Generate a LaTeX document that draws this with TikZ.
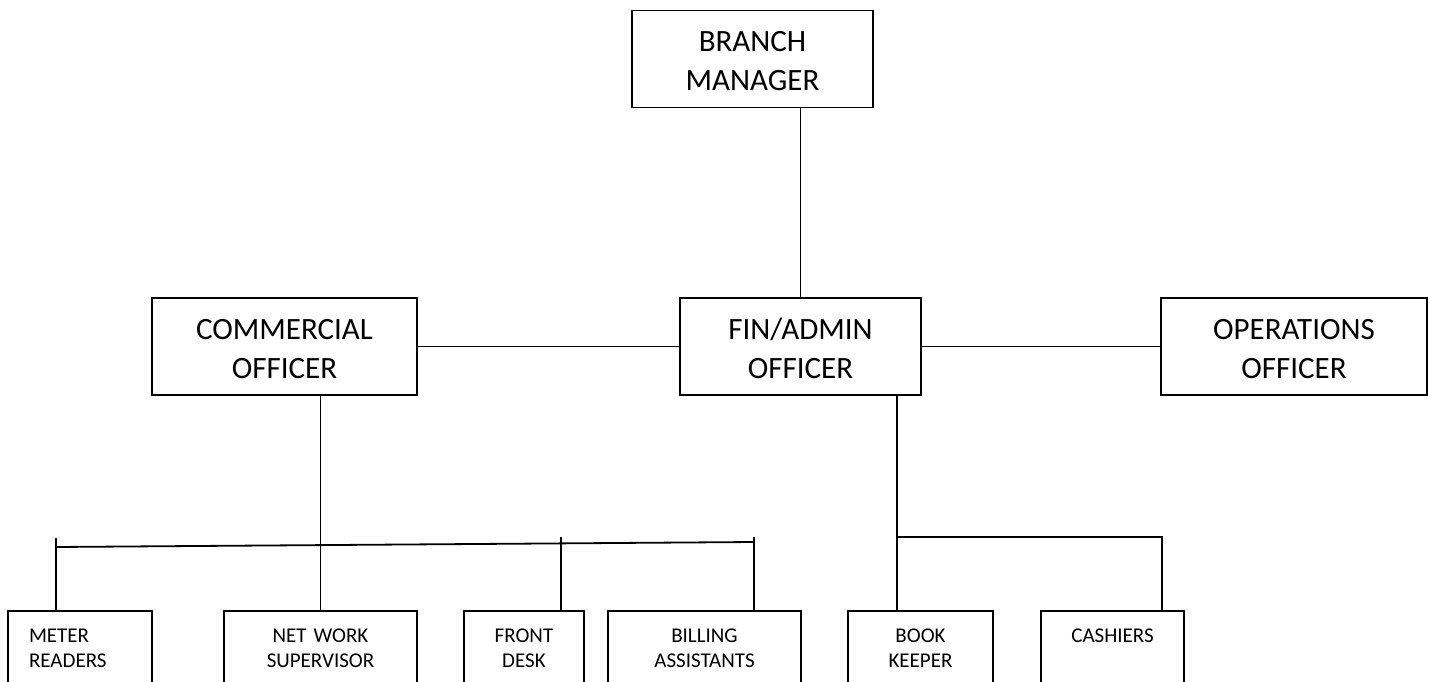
\documentclass[tikz,border=0pt]{standalone}
\usepackage{fontspec}
\setmainfont{Carlito}
\usepackage{tikz}
\usetikzlibrary{positioning,calc}

\begin{document}
\begin{tikzpicture}[
    x=1pt, y=-1pt,
    officer/.style={rectangle, draw, line width=1.8pt, inner sep=0pt, minimum height=97pt, align=center, font=\fontsize{31}{39}\selectfont, text height=64pt, text depth=0pt},
    staff/.style={rectangle, draw, line width=1.8pt, anchor=north, inner xsep=0pt, inner ysep=0pt, align=center, font=\fontsize{21}{25}\selectfont, text height=32pt, text depth=60pt},
    link/.style={line width=1.8pt}
]
\useasboundingbox (0,0) rectangle (1429,682);
\clip (0,0) rectangle (1429,682);

% Management
\node[officer, minimum width=241pt] (branch_mgr) at (752.5, 59) {BRANCH\\MANAGER};
\node[officer, minimum width=265pt] (commercial) at (284.5, 346.5) {COMMERCIAL\\OFFICER};
\node[officer, minimum width=241pt] (fin_admin) at (800.5, 346.5) {FIN/ADMIN\\OFFICER};
\node[officer, minimum width=266pt] (operations) at (1294, 346.5) {OPERATIONS\\OFFICER};

% Staff under commercial officer
\node[staff, align=left, inner xsep=21pt, text width=102pt] (meter) at (80, 610) {METER\\READERS};
\node[staff, text width=193pt] (network) at (320.5, 610) {NET WORK\\SUPERVISOR};
\node[staff, text width=120pt] (front_desk) at (524, 610) {FRONT\\DESK};
\node[staff, text width=193pt] (billing) at (704.5, 610) {BILLING\\ASSISTANTS};

% Staff under fin/admin officer
\node[staff, text width=145pt] (book_keeper) at (920.5, 610) {BOOK\\KEEPER};
\node[staff, text width=143pt] (cashiers) at (1112.5, 610) {CASHIERS};

% Branching points
\coordinate (bar_left) at (56, 547);
\coordinate (bar_right) at (754, 542);
\coordinate (meter_tick) at (56, 538);
\coordinate (front_tick) at (561, 537);
\coordinate (billing_tick) at (754, 537);
\coordinate (fin_split) at (897, 537);
\coordinate (cash_drop) at (1162, 537);

% Management links
\draw[link] (fin_admin.north) -- (fin_admin.north |- branch_mgr.south);
\draw[link] (commercial.east) -- (fin_admin.west);
\draw[link] (fin_admin.east) -- (operations.west);

% Commercial branch
\draw[link] (network.north) -- (network.north |- commercial.south);
\draw[link] (bar_left) -- (bar_right);
\draw[link] (meter_tick) -- (meter_tick |- meter.north);
\draw[link] (front_tick) -- (front_tick |- front_desk.north);
\draw[link] (billing_tick) -- (billing_tick |- billing.north);

% Fin/admin branch
\draw[link] (fin_split |- fin_admin.south) -- (fin_split |- book_keeper.north);
\draw[link] (fin_split) -- (cash_drop) -- (cash_drop |- cashiers.north);

\end{tikzpicture}
\end{document}
